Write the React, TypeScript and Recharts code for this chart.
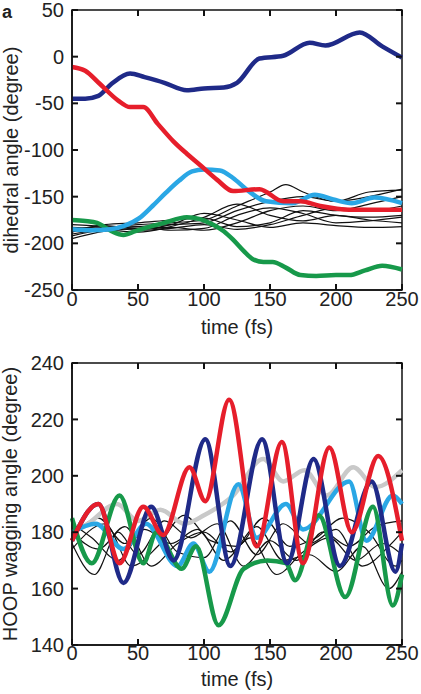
import React from 'react';
import { LineChart, Line, XAxis, YAxis, ReferenceArea, Label } from 'recharts';

type Pt = [number, number];

const timeTicks = [0, 50, 100, 150, 200, 250];
const dihedralTicks = [50, 0, -50, -100, -150, -200, -250];
const hoopTicks = [240, 220, 200, 180, 160, 140];

// panel a: dihedral angle (degree) vs time (fs)
const dihNavy: Pt[] = [[0, -45], [10, -45], [20, -42], [30, -29], [44, -18], [55, -22], [70, -28], [87, -36], [100, -34], [115, -33], [125, -28], [142, -2], [160, 1], [180, 15], [192, 12], [218, 26], [235, 11], [250, -1]];
const dihRed: Pt[] = [[0, -11], [10, -15], [21, -29], [35, -47], [44, -54], [54, -54], [65, -72], [77, -91], [87, -104], [97, -116], [110, -132], [122, -144], [142, -142], [160, -155], [173, -155], [188, -160], [210, -164], [250, -164]];
const dihCyan: Pt[] = [[0, -185], [15, -186], [29, -185], [40, -181], [51, -173], [61, -160], [71, -146], [81, -133], [91, -123], [100, -121], [112, -122], [122, -130], [132, -142], [147, -155], [167, -157], [184, -148], [198, -153], [212, -157], [229, -151], [250, -157]];
const dihGreen: Pt[] = [[0, -175], [10, -176], [19, -178], [30, -187], [39, -191], [48, -187], [57, -183], [70, -178], [87, -172], [97, -174], [107, -180], [115, -187], [122, -196], [130, -208], [137, -217], [145, -220], [152, -220], [162, -226], [173, -234], [185, -235], [200, -234], [210, -234], [222, -229], [235, -224], [250, -228]];
const dihBlack1: Pt[] = [[0, -185], [25, -183], [50, -180], [75, -178], [100, -175], [125, -160], [150, -145], [162, -137], [175, -145], [200, -155], [225, -150], [250, -142]];
const dihBlack2: Pt[] = [[0, -190], [25, -185], [50, -182], [75, -180], [100, -178], [125, -165], [150, -155], [175, -150], [200, -155], [225, -145], [250, -143]];
const dihBlack3: Pt[] = [[0, -195], [25, -187], [50, -184], [75, -183], [100, -186], [125, -178], [150, -165], [175, -160], [200, -165], [225, -158], [250, -150]];
const dihBlack4: Pt[] = [[0, -180], [25, -182], [50, -186], [75, -184], [100, -180], [125, -185], [150, -180], [175, -170], [200, -162], [225, -165], [250, -160]];
const dihBlack5: Pt[] = [[0, -188], [25, -180], [50, -178], [75, -175], [100, -173], [125, -182], [150, -178], [175, -165], [200, -170], [225, -172], [250, -170]];
const dihBlack6: Pt[] = [[0, -192], [25, -186], [50, -188], [75, -182], [100, -172], [125, -158], [150, -170], [175, -176], [200, -170], [225, -175], [250, -178]];
const dihBlack7: Pt[] = [[0, -183], [25, -184], [50, -182], [75, -186], [100, -184], [125, -170], [150, -162], [175, -168], [200, -178], [225, -176], [250, -172]];
const dihBlack8: Pt[] = [[0, -186], [25, -181], [50, -185], [75, -180], [100, -168], [125, -175], [150, -183], [175, -178], [200, -181], [225, -183], [250, -182]];

// panel b: HOOP wagging angle (degree) vs time (fs)
const hoopRed: Pt[] = [[0, 177], [20, 190], [36, 169], [54, 189], [69, 179], [89, 203], [101, 191], [119, 227], [140, 175], [159, 212], [175, 169], [195, 210], [212, 180], [232, 207], [250, 177]];
const hoopNavy: Pt[] = [[0, 177], [20, 190], [39, 162], [60, 189], [77, 170], [101, 213], [120, 168], [144, 213], [163, 169], [183, 206], [203, 168], [227, 198], [245, 166], [250, 176]];
const hoopCyan: Pt[] = [[0, 180], [18, 183], [39, 174], [56, 183], [80, 168], [92, 176], [104, 166], [126, 197], [140, 178], [162, 190], [175, 181], [210, 198], [223, 177], [243, 193], [250, 190]];
const hoopGreen: Pt[] = [[0, 185], [15, 169], [36, 193], [54, 169], [64, 180], [83, 167], [94, 175], [111, 147], [130, 167], [148, 170], [162, 169], [169, 163], [187, 186], [207, 157], [228, 189], [243, 154], [250, 165]];
const hoopGray: Pt[] = [[0, 180], [12, 183], [34, 190], [50, 184], [67, 188], [85, 183], [100, 186], [122, 193], [145, 206], [160, 198], [176, 202], [193, 193], [213, 203], [230, 196], [250, 202]];
const hoopBlack1: Pt[] = [[0, 176], [17, 165], [35, 180], [50, 172], [70, 184], [90, 178], [110, 183], [130, 168], [150, 177], [170, 170], [190, 180], [210, 175], [230, 182], [250, 184]];
const hoopBlack2: Pt[] = [[0, 180], [20, 174], [40, 182], [60, 168], [80, 176], [100, 180], [120, 173], [140, 182], [160, 170], [180, 172], [200, 166], [220, 175], [240, 160], [250, 166]];
const hoopBlack3: Pt[] = [[0, 183], [15, 178], [35, 170], [55, 181], [75, 176], [95, 181], [115, 170], [135, 178], [155, 165], [175, 173], [195, 178], [215, 170], [235, 176], [250, 172]];
const hoopBlack4: Pt[] = [[0, 178], [20, 185], [40, 176], [60, 185], [80, 173], [100, 171], [120, 184], [140, 172], [160, 183], [180, 176], [200, 181], [220, 168], [240, 175], [250, 180]];
const hoopBlack5: Pt[] = [[0, 174], [25, 183], [45, 168], [65, 175], [85, 186], [105, 177], [125, 175], [145, 185], [165, 175], [185, 178], [205, 185], [225, 180], [245, 168], [250, 170]];

const FONT = '"Liberation Sans", Arial, sans-serif';
const INK = '#111';
const NAVY = '#1f2a88';
const RED = '#e61e2b';
const CYAN = '#2aa7e5';
const GREEN = '#17994a';
const GRAY = '#c9c9c9';

const PLOT_W = 330;
const TICK = 6;

const toRows = (s: Pt[]) => s.map(([t, v]) => ({ t, v }));

// y labels, inward tick on the left, mirrored tick on the right edge
const LeftTick = (props: any) => {
  const x = Number(props.x);
  const y = Number(props.y);
  const ax = x + 8;
  return (
    <g>
      <text x={x} y={y} dy="0.355em" textAnchor="end" fontSize={20} fontFamily={FONT} fill="#222">
        {props.payload.value}
      </text>
      <line x1={ax} x2={ax + TICK} y1={y} y2={y} stroke={INK} strokeWidth={2} />
      <line x1={ax + PLOT_W} x2={ax + PLOT_W - TICK} y1={y} y2={y} stroke={INK} strokeWidth={2} />
    </g>
  );
};

const makeBottomTick = (gap: number, plotH: number) => (props: any) => {
  const x = Number(props.x);
  const y = Number(props.y);
  const ay = y - gap;
  return (
    <g>
      <text x={x} y={y} dy="0.71em" textAnchor="middle" fontSize={20} fontFamily={FONT} fill="#222">
        {props.payload.value}
      </text>
      <line x1={x} x2={x} y1={ay} y2={ay - TICK} stroke={INK} strokeWidth={2} />
      <line x1={x} x2={x} y1={ay - plotH} y2={ay - plotH + TICK} stroke={INK} strokeWidth={2} />
    </g>
  );
};

interface Series {
  data: Pt[];
  color: string;
  width: number;
}

const Panel = ({ height, bottom, domain, yTicks, gap, series, letter, yTitle, titleX, timeY }: {
  height: number; bottom: number; domain: [number, number]; yTicks: number[]; gap: number;
  series: Series[]; letter: string; yTitle: string; titleX: number; timeY: number;
}) => {
  const plotH = height - 10 - 45 - bottom;
  const midY = 10 + plotH / 2;
  return (
    <LineChart width={421} height={height} margin={{ top: 10, right: 19, bottom, left: 0 }}>
      <XAxis dataKey="t" type="number" domain={[0, 250]} ticks={timeTicks} interval={0}
        height={45} tickSize={0} tickMargin={gap} axisLine={{ stroke: INK, strokeWidth: 1.5 }}
        tick={makeBottomTick(gap, plotH)}>
        <Label content={() => (
          <g fontFamily={FONT} fill="#222">
            <text x={237} y={timeY} fontSize={20} textAnchor="middle">time (fs)</text>
          </g>
        )} />
      </XAxis>
      <YAxis type="number" domain={domain} ticks={yTicks} interval={0}
        width={72} tickSize={0} tickMargin={8} axisLine={{ stroke: INK, strokeWidth: 1.5 }} tick={LeftTick}>
        <Label content={() => (
          <g fontFamily={FONT} fill="#222">
            <text x={titleX} y={midY} fontSize={20} textAnchor="middle"
              transform={`rotate(-90, ${titleX}, ${midY})`}>{yTitle}</text>
          </g>
        )} />
      </YAxis>
      {series.map((s, i) => (
        <Line key={i} data={toRows(s.data)} dataKey="v" type="monotone" stroke={s.color}
          strokeWidth={s.width} dot={false} activeDot={false} isAnimationActive={false} />
      ))}
      <ReferenceArea x1={0} x2={250} y1={domain[0]} y2={domain[1]} fill="#ffffff" fillOpacity={0}
        stroke={INK} strokeWidth={1.5}>
        <Label content={() => (
          <text x={letter === 'a' ? 2 : 1} y={letter === 'a' ? 18 : -3} fontSize={18}
            fontWeight="bold" fontFamily={FONT} fill="#222">{letter}</text>
        )} />
      </ReferenceArea>
    </LineChart>
  );
};

const thin = (data: Pt[]): Series => ({ data, color: '#111', width: 1.2 });
const thick = (data: Pt[], color: string): Series => ({ data, color, width: 4.5 });

const panelA: Series[] = [
  thin(dihBlack1), thin(dihBlack2), thin(dihBlack3), thin(dihBlack4),
  thin(dihBlack5), thin(dihBlack6), thin(dihBlack7), thin(dihBlack8),
  thick(dihGreen, GREEN), thick(dihCyan, CYAN), thick(dihNavy, NAVY), thick(dihRed, RED),
];

const panelB: Series[] = [
  thin(hoopBlack1), thin(hoopBlack2), thin(hoopBlack3), thin(hoopBlack4), thin(hoopBlack5),
  thick(hoopGray, GRAY), thick(hoopCyan, CYAN), thick(hoopGreen, GREEN),
  thick(hoopNavy, NAVY), thick(hoopRed, RED),
];

export default function App() {
  return (
    <div style={{ position: 'absolute', left: 0, top: 0, width: 421, background: '#fff', fontFamily: FONT }}>
      <div style={{ height: 353 }}>
        <Panel height={345} bottom={10} domain={[-250, 50]} yTicks={dihedralTicks} gap={2}
          series={panelA} letter="a" yTitle="dihedral angle (degree)" titleX={18} timeY={334} />
      </div>
      <div style={{ height: 341, overflow: 'visible' }}>
        <Panel height={341} bottom={4} domain={[140, 240]} yTicks={hoopTicks} gap={1}
          series={panelB} letter="b" yTitle="HOOP wagging angle (degree)" titleX={17} timeY={333} />
      </div>
    </div>
  );
}
